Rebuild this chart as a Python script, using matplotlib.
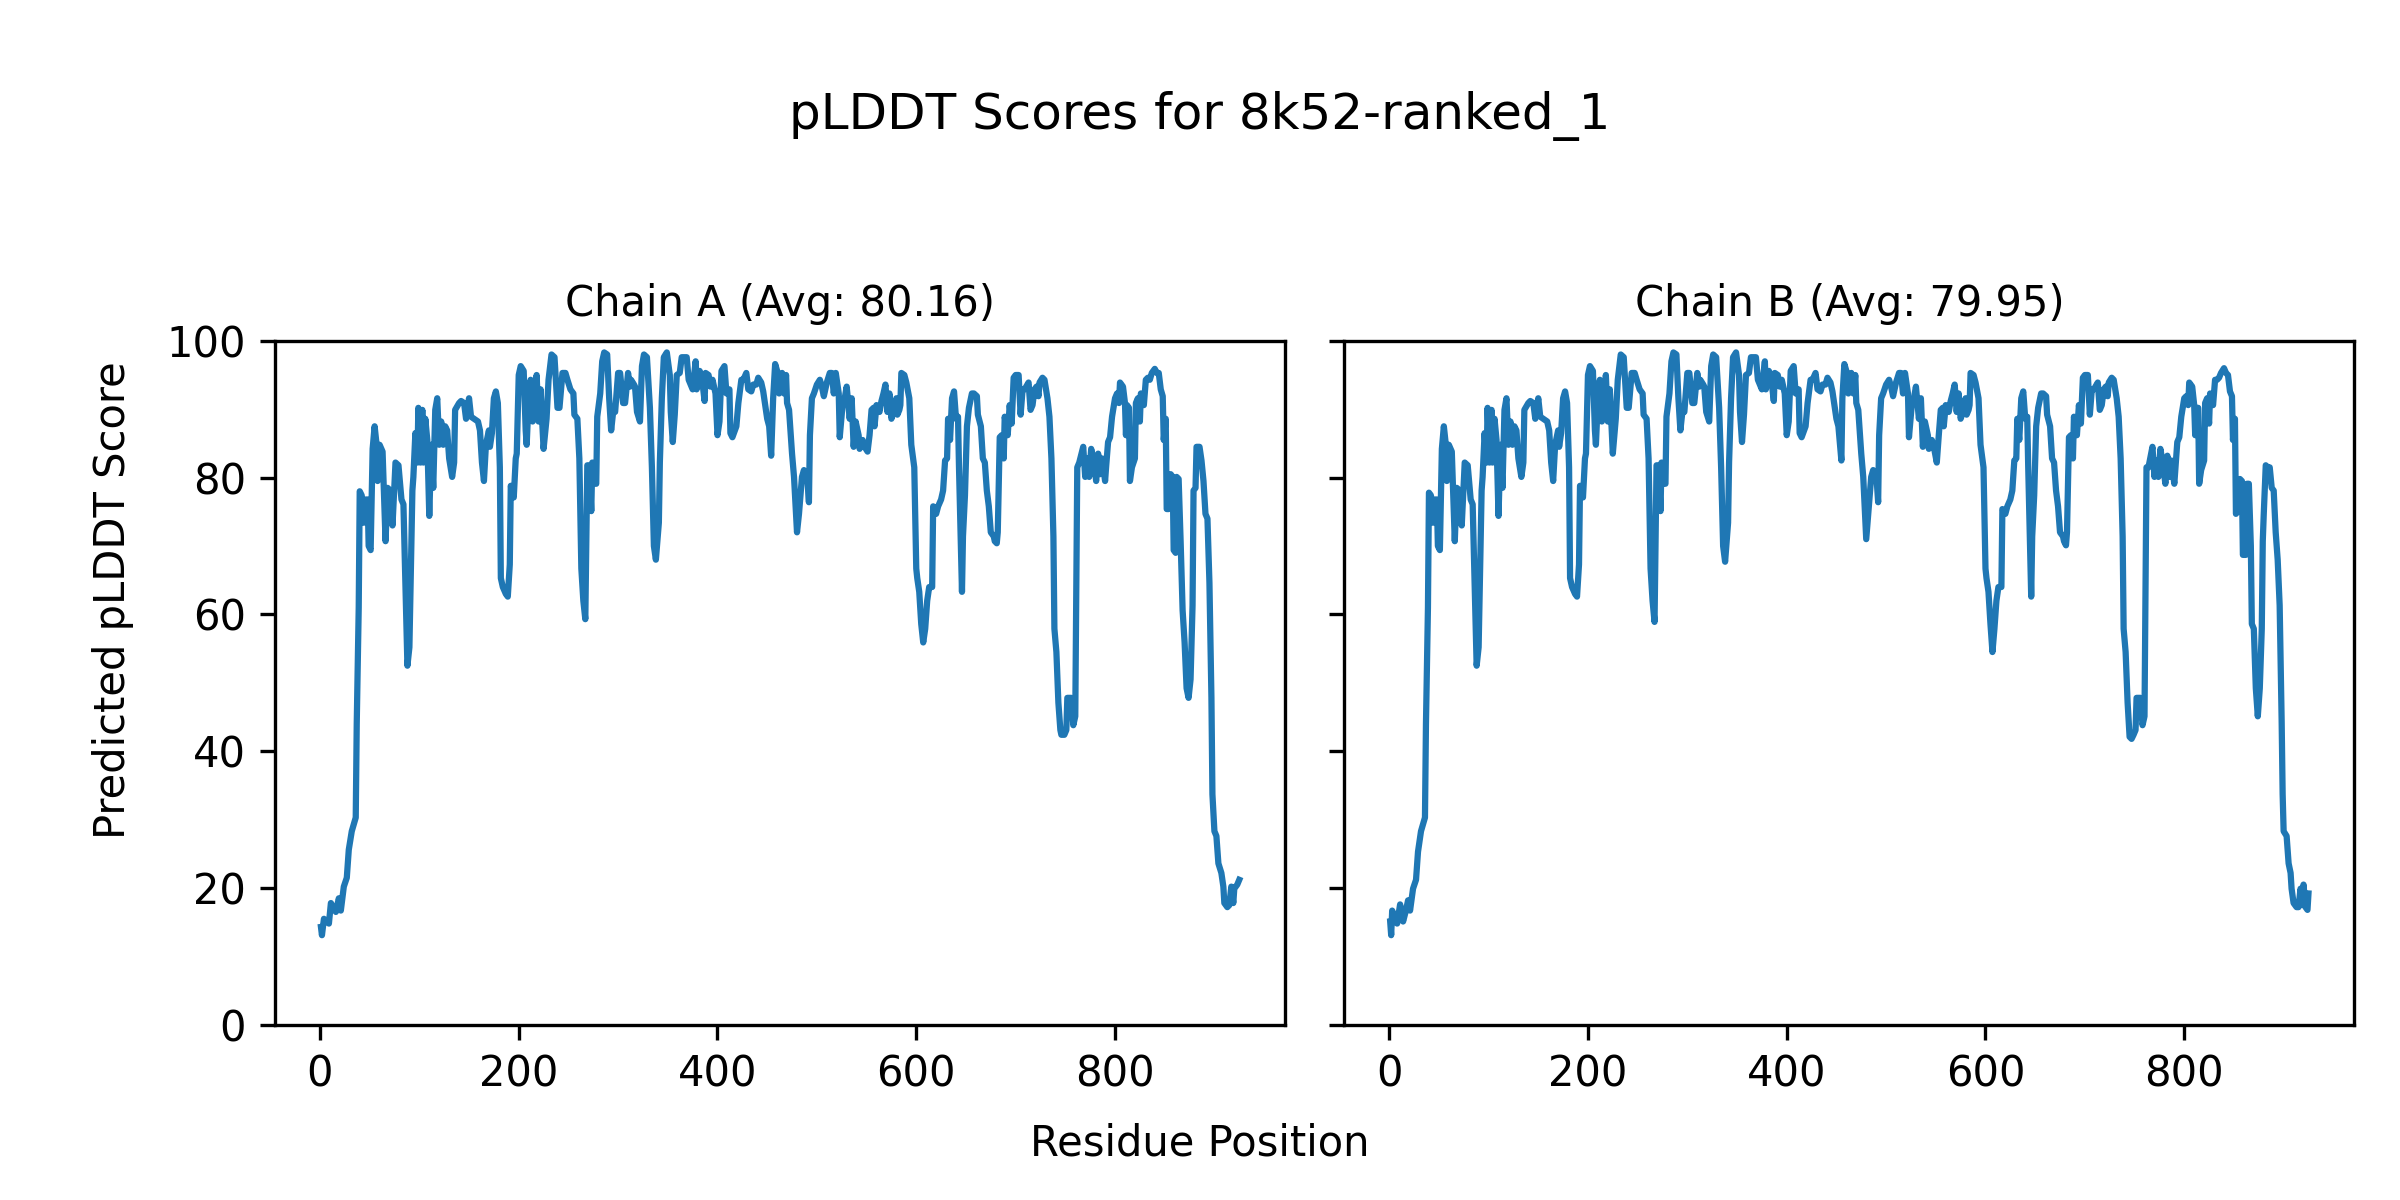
import matplotlib
matplotlib.use("Agg")
from matplotlib import pyplot as plt

# values (residue, pLDDT) at the line's turning points
chain_a_pos = [1, 2, 4, 9, 11, 16, 19, 21, 24, 27, 29, 32, 36, 37, 39, 40, 42, 44, 46, 48,
               49, 51, 53, 55, 57, 58, 60, 63, 66, 68, 71, 73, 76, 79, 82, 84, 88, 90, 93, 94,
               96, 98, 99, 101, 103, 104, 106, 108, 110, 112, 114, 116, 118, 120, 122, 124, 126, 128, 130, 133,
               135, 136, 140, 142, 145, 147, 150, 152, 155, 159, 161, 163, 165, 167, 170, 171, 173, 175, 177, 179,
               181, 182, 184, 187, 189, 191, 192, 195, 197, 198, 200, 202, 205, 207, 208, 210, 212, 214, 217, 218,
               220, 222, 225, 228, 230, 233, 236, 239, 241, 244, 247, 249, 252, 255, 256, 259, 261, 263, 265, 267,
               269, 271, 273, 274, 276, 278, 279, 282, 284, 286, 289, 291, 293, 295, 297, 300, 302, 305, 307, 310,
               312, 313, 316, 317, 319, 322, 324, 326, 329, 332, 334, 336, 338, 341, 342, 344, 346, 349, 352, 353,
               355, 357, 359, 362, 364, 369, 371, 373, 375, 378, 379, 382, 384, 387, 388, 391, 393, 395, 398, 400,
               402, 404, 407, 409, 412, 413, 415, 419, 421, 424, 426, 429, 431, 434, 436, 439, 441, 444, 446, 448,
               450, 452, 454, 456, 458, 460, 462, 465, 467, 469, 470, 472, 475, 477, 480, 482, 485, 487, 488, 490,
               492, 493, 495, 497, 500, 503, 505, 507, 510, 513, 515, 517, 519, 522, 523, 526, 528, 530, 533, 535,
               537, 539, 542, 543, 546, 548, 551, 553, 555, 557, 558, 560, 563, 565, 567, 569, 571, 573, 575, 578,
               580, 581, 583, 584, 585, 588, 590, 593, 595, 598, 600, 601, 603, 605, 607, 609, 611, 613, 616, 617,
               620, 622, 625, 627, 629, 631, 632, 634, 636, 638, 640, 642, 643, 646, 647, 649, 651, 653, 656, 658,
               661, 662, 665, 667, 669, 671, 673, 675, 678, 679, 681, 682, 684, 686, 688, 689, 692, 694, 696, 698,
               700, 703, 705, 707, 709, 713, 715, 717, 719, 721, 723, 724, 727, 729, 732, 734, 736, 738, 739, 741,
               743, 745, 746, 749, 751, 752, 755, 756, 758, 760, 762, 764, 768, 770, 772, 774, 776, 779, 781, 783,
               785, 787, 790, 791, 793, 795, 797, 800, 802, 804, 805, 808, 810, 811, 812, 814, 815, 817, 820, 821,
               823, 825, 826, 829, 831, 833, 835, 837, 840, 842, 844, 846, 848, 849, 851, 852, 854, 856, 858, 859,
               861, 862, 864, 866, 868, 870, 872, 874, 876, 878, 879, 881, 882, 885, 887, 889, 891, 893, 895, 897,
               898, 900, 902, 904, 907, 909, 910, 913, 915, 917, 919, 920, 923, 925]
chain_a_plddt = [14.3, 13.1, 15.5, 14.8, 17.8, 16.5, 18.5, 16.7, 20.2, 21.5, 25.6, 28.3, 30.3, 44.0, 61.0, 78.0, 77.4, 73.4, 76.8, 76.8,
                 70.0, 69.4, 84.2, 87.5, 84.8, 79.5, 84.8, 83.8, 70.7, 78.5, 78.1, 73.0, 82.2, 81.8, 76.8, 76.1, 52.5, 55.2, 78.1, 80.1,
                 86.5, 82.2, 90.2, 82.2, 89.9, 82.2, 88.6, 85.5, 74.4, 84.8, 78.5, 89.9, 91.6, 84.8, 88.2, 84.8, 87.5, 86.9, 82.8, 80.1,
                 82.2, 89.9, 90.9, 91.2, 90.9, 88.6, 91.6, 88.9, 88.6, 88.2, 86.9, 82.2, 79.5, 84.8, 86.9, 84.5, 86.5, 91.6, 92.6, 90.9,
                 81.5, 65.3, 64.0, 63.0, 62.6, 67.3, 78.8, 77.1, 82.8, 83.5, 95.0, 96.3, 95.6, 86.9, 84.8, 91.6, 94.3, 88.2, 91.6, 95.0,
                 88.2, 92.9, 84.2, 88.6, 94.3, 98.0, 97.6, 90.2, 90.2, 95.3, 95.3, 94.3, 92.9, 92.3, 89.2, 88.6, 82.8, 66.7, 62.0, 59.3,
                 81.8, 81.8, 75.1, 82.2, 79.1, 79.1, 88.9, 92.3, 97.0, 98.3, 98.0, 91.6, 86.9, 89.6, 89.6, 95.3, 95.3, 90.9, 90.9, 95.3,
                 93.3, 94.3, 93.6, 93.3, 89.6, 88.2, 96.3, 98.0, 97.6, 90.2, 81.5, 70.0, 68.0, 73.4, 82.2, 91.6, 97.6, 98.3, 95.0, 89.6,
                 85.2, 89.2, 95.0, 95.3, 97.6, 97.6, 94.3, 93.6, 92.9, 97.0, 92.9, 95.6, 95.0, 91.2, 95.3, 95.0, 93.3, 94.3, 92.3, 86.2,
                 88.2, 95.6, 96.3, 92.3, 92.9, 86.5, 85.9, 87.5, 90.9, 94.3, 94.3, 95.3, 92.9, 92.6, 93.6, 93.6, 94.6, 93.9, 92.6, 90.6,
                 88.6, 87.5, 83.2, 91.6, 96.6, 95.6, 92.3, 95.3, 92.3, 95.0, 90.9, 89.9, 83.5, 80.1, 72.0, 74.7, 80.1, 81.1, 80.1, 80.8,
                 76.4, 86.2, 91.6, 92.3, 93.6, 94.3, 93.3, 91.9, 93.9, 95.3, 95.3, 92.3, 95.3, 92.3, 85.9, 90.9, 91.6, 93.3, 88.6, 91.6,
                 84.5, 88.2, 86.2, 84.2, 85.5, 84.5, 83.8, 86.2, 89.9, 90.2, 87.5, 90.6, 89.6, 91.2, 92.3, 93.6, 89.6, 92.3, 88.6, 89.9,
                 91.6, 89.2, 89.9, 90.6, 95.3, 95.0, 93.9, 91.6, 84.8, 81.5, 66.7, 65.3, 63.3, 58.6, 55.9, 57.9, 62.0, 64.0, 64.0, 75.8,
                 74.7, 75.8, 76.8, 78.1, 82.5, 82.8, 88.6, 85.5, 91.6, 92.6, 88.6, 88.9, 81.5, 63.3, 71.4, 77.4, 87.5, 90.2, 92.3, 92.3,
                 91.9, 89.2, 87.5, 82.8, 82.2, 78.1, 75.8, 72.0, 71.4, 70.7, 70.4, 72.0, 85.9, 86.2, 82.8, 88.9, 86.2, 90.6, 87.9, 94.6,
                 95.0, 95.0, 89.2, 92.9, 92.9, 93.9, 89.9, 90.6, 92.9, 93.3, 91.9, 93.9, 94.6, 94.3, 91.6, 88.9, 82.8, 71.4, 57.9, 54.5,
                 47.1, 43.1, 42.4, 42.4, 43.1, 47.8, 47.8, 47.8, 43.8, 45.1, 81.5, 82.2, 84.5, 80.1, 82.8, 80.1, 84.2, 82.2, 79.5, 83.5,
                 80.5, 82.8, 79.5, 81.5, 85.2, 85.9, 88.9, 91.6, 92.3, 90.9, 93.9, 93.3, 90.9, 86.2, 90.6, 90.2, 79.5, 81.5, 82.8, 90.9,
                 91.6, 88.2, 92.3, 90.6, 94.3, 94.6, 94.3, 95.3, 95.9, 95.3, 95.3, 92.9, 91.9, 85.5, 88.6, 75.4, 75.4, 80.5, 80.1, 69.4,
                 69.0, 80.1, 79.8, 70.7, 60.6, 55.9, 49.2, 47.8, 50.5, 61.3, 78.1, 78.5, 84.5, 84.5, 82.5, 79.5, 74.7, 74.0, 64.6, 47.8,
                 33.7, 28.3, 27.6, 23.6, 22.2, 20.2, 17.8, 17.2, 17.5, 20.2, 17.8, 19.9, 20.5, 21.2]

chain_b_pos = [1, 2, 3, 6, 8, 11, 14, 17, 19, 21, 24, 27, 29, 32, 36, 37, 39, 40, 42, 44,
               46, 48, 49, 51, 53, 55, 57, 58, 60, 63, 66, 68, 71, 73, 76, 79, 82, 84, 88, 90,
               93, 94, 96, 98, 99, 101, 103, 104, 106, 108, 110, 112, 114, 116, 118, 120, 122, 124, 126, 128,
               130, 133, 135, 136, 140, 142, 145, 147, 150, 152, 155, 159, 161, 163, 165, 167, 170, 171, 173, 175,
               177, 179, 181, 182, 184, 187, 189, 191, 192, 195, 197, 198, 200, 202, 205, 207, 208, 210, 212, 214,
               217, 218, 220, 222, 225, 228, 230, 233, 236, 239, 241, 244, 247, 249, 252, 255, 256, 259, 261, 263,
               265, 267, 269, 271, 273, 274, 276, 278, 279, 282, 284, 286, 289, 291, 293, 295, 297, 300, 302, 305,
               307, 310, 312, 313, 316, 317, 319, 322, 324, 326, 329, 332, 334, 336, 338, 341, 342, 344, 346, 349,
               352, 353, 355, 357, 359, 362, 364, 369, 371, 373, 375, 378, 379, 382, 384, 387, 388, 391, 393, 395,
               398, 400, 402, 404, 407, 409, 412, 413, 415, 419, 421, 424, 426, 429, 431, 434, 436, 439, 441, 444,
               446, 448, 450, 452, 455, 456, 458, 460, 462, 465, 467, 469, 470, 472, 475, 477, 480, 482, 485, 487,
               488, 490, 492, 493, 495, 497, 500, 503, 505, 507, 510, 513, 515, 517, 519, 522, 523, 526, 528, 530,
               533, 535, 537, 539, 542, 543, 546, 548, 551, 553, 555, 557, 558, 560, 563, 565, 567, 569, 571, 573,
               575, 578, 580, 581, 583, 584, 585, 588, 590, 593, 595, 598, 600, 601, 603, 605, 607, 609, 611, 613,
               616, 617, 620, 622, 625, 627, 629, 631, 632, 634, 636, 638, 640, 642, 643, 646, 647, 649, 651, 653,
               656, 658, 661, 662, 665, 667, 669, 671, 673, 675, 678, 679, 681, 682, 684, 686, 688, 689, 692, 694,
               696, 698, 700, 703, 705, 707, 709, 713, 715, 717, 719, 721, 723, 724, 727, 729, 732, 734, 736, 738,
               739, 741, 743, 745, 747, 749, 751, 752, 755, 756, 758, 760, 762, 764, 768, 770, 772, 774, 776, 779,
               781, 783, 785, 787, 790, 791, 793, 795, 797, 800, 802, 804, 805, 808, 810, 811, 812, 814, 815, 817,
               820, 821, 823, 825, 826, 829, 831, 833, 835, 837, 840, 842, 844, 846, 848, 849, 851, 852, 854, 856,
               858, 859, 862, 863, 865, 867, 868, 870, 872, 874, 876, 878, 879, 880, 882, 884, 886, 888, 890, 892,
               894, 896, 898, 899, 900, 903, 905, 907, 908, 910, 913, 915, 917, 919, 920, 922, 924, 925]
chain_b_plddt = [15.1, 13.1, 16.7, 15.5, 14.8, 17.6, 15.1, 16.8, 18.2, 16.7, 19.9, 21.2, 25.3, 28.3, 30.3, 44.0, 61.0, 77.8, 77.4, 73.4,
                 76.8, 76.8, 70.0, 69.4, 84.2, 87.5, 84.8, 79.5, 84.8, 83.8, 70.7, 78.5, 78.1, 73.0, 82.2, 81.8, 76.8, 76.1, 52.5, 55.2,
                 78.1, 80.1, 86.5, 82.2, 90.2, 82.2, 89.9, 82.2, 88.6, 85.5, 74.4, 84.8, 78.5, 89.9, 91.6, 84.8, 88.2, 84.8, 87.5, 86.9,
                 82.8, 80.1, 82.2, 89.9, 90.9, 91.2, 90.9, 88.6, 91.6, 88.9, 88.6, 88.2, 86.9, 82.2, 79.5, 84.8, 86.9, 84.5, 86.5, 91.6,
                 92.6, 90.9, 81.5, 65.3, 64.0, 63.0, 62.6, 67.3, 78.8, 77.1, 82.8, 83.5, 95.0, 96.3, 95.6, 86.9, 84.8, 91.6, 94.3, 88.2,
                 91.6, 95.0, 88.2, 92.9, 83.5, 88.6, 94.3, 98.0, 97.6, 90.2, 90.2, 95.3, 95.3, 94.3, 92.9, 92.3, 89.2, 88.6, 82.8, 66.7,
                 62.0, 58.9, 81.8, 81.8, 75.1, 82.2, 79.1, 79.1, 88.9, 92.3, 97.0, 98.3, 98.0, 91.6, 86.9, 89.6, 89.6, 95.3, 95.3, 90.9,
                 90.9, 95.3, 93.3, 94.3, 93.6, 93.3, 89.6, 88.2, 96.3, 98.0, 97.6, 90.2, 81.5, 70.0, 67.7, 73.4, 82.2, 91.6, 97.6, 98.3,
                 95.0, 89.6, 85.2, 89.2, 95.0, 95.3, 97.6, 97.6, 94.3, 93.6, 92.9, 97.0, 92.9, 95.6, 95.0, 91.2, 95.3, 95.0, 93.3, 94.3,
                 92.3, 86.2, 88.2, 95.6, 96.3, 92.3, 92.9, 86.5, 85.9, 87.5, 90.9, 94.3, 94.3, 95.3, 92.9, 92.6, 93.6, 93.6, 94.6, 93.9,
                 92.6, 90.6, 88.6, 87.5, 82.5, 91.6, 96.6, 95.6, 92.3, 95.3, 92.3, 95.0, 90.9, 89.9, 83.5, 80.1, 71.0, 74.7, 80.1, 81.1,
                 80.1, 80.8, 76.4, 86.2, 91.6, 92.3, 93.6, 94.3, 93.3, 91.9, 93.9, 95.3, 95.3, 92.3, 95.3, 92.3, 85.9, 90.9, 91.6, 93.3,
                 88.6, 91.6, 84.5, 88.2, 86.2, 84.2, 85.5, 84.5, 82.2, 86.2, 89.9, 90.2, 87.5, 90.6, 89.6, 91.2, 92.3, 93.6, 89.6, 92.3,
                 88.6, 89.9, 91.6, 89.2, 89.9, 90.6, 95.3, 95.0, 93.9, 91.6, 84.8, 81.5, 66.7, 65.3, 63.3, 58.6, 54.5, 57.9, 62.0, 64.0,
                 64.0, 75.4, 74.7, 75.8, 76.8, 78.1, 82.5, 82.8, 88.6, 85.5, 91.6, 92.6, 88.6, 88.9, 81.5, 62.6, 71.4, 77.4, 87.5, 90.2,
                 92.3, 92.3, 91.9, 89.2, 87.5, 82.8, 82.2, 78.1, 75.8, 72.0, 71.4, 70.7, 70.1, 72.0, 85.9, 86.2, 82.8, 88.9, 86.2, 90.6,
                 87.9, 94.6, 95.0, 95.0, 89.2, 92.9, 92.9, 93.9, 89.9, 90.6, 92.9, 93.3, 91.9, 93.9, 94.6, 94.3, 91.6, 88.9, 82.8, 71.4,
                 57.9, 54.5, 47.1, 42.1, 41.8, 42.4, 43.1, 47.8, 47.8, 47.8, 43.8, 45.1, 81.5, 81.5, 84.5, 80.1, 82.5, 80.1, 84.2, 81.5,
                 79.1, 83.2, 80.1, 82.5, 79.1, 81.1, 85.2, 85.9, 88.9, 91.6, 91.9, 90.6, 93.9, 93.3, 90.6, 86.2, 90.2, 90.2, 79.1, 81.1,
                 82.5, 90.9, 91.6, 87.9, 92.3, 90.6, 94.3, 94.3, 94.6, 95.3, 96.0, 95.3, 95.0, 92.6, 91.9, 85.5, 88.6, 74.7, 75.1, 79.8,
                 79.5, 68.7, 68.7, 79.1, 79.1, 70.0, 58.6, 57.9, 49.2, 45.1, 49.2, 57.9, 70.7, 74.7, 81.8, 81.5, 81.5, 78.5, 78.1, 72.0,
                 68.0, 61.3, 44.4, 33.7, 28.3, 27.6, 23.6, 22.2, 19.9, 17.8, 17.2, 17.2, 19.9, 17.5, 20.5, 17.2, 16.8, 19.2]

chain_names = ["A", "B"]
chain_avgs = [80.16, 79.95]
model_name = "8k52-ranked_1"

fig, axes = plt.subplots(1, 2, figsize=(8, 4), dpi=300, sharey=True)
fig.subplots_adjust(left=0.1146, right=0.981, bottom=0.146, top=0.716, wspace=0.0585)

series = [(chain_a_pos, chain_a_plddt), (chain_b_pos, chain_b_plddt)]
for ax, name, avg, (pos, vals) in zip(axes, chain_names, chain_avgs, series):
    ax.plot(pos, vals)
    ax.set_title(f"Chain {name} (Avg: {avg:.2f})", fontsize=10)
    ax.set_ylim(0, 100)

fig.suptitle(f"pLDDT Scores for {model_name}", y=0.903, va="center")
fig.text(0.5, 0.0475, "Residue Position", ha="center", va="center")
fig.text(0.047, 0.5, "Predicted pLDDT Score", ha="center", va="center", rotation=90)

plt.savefig("out.png", dpi=300)
